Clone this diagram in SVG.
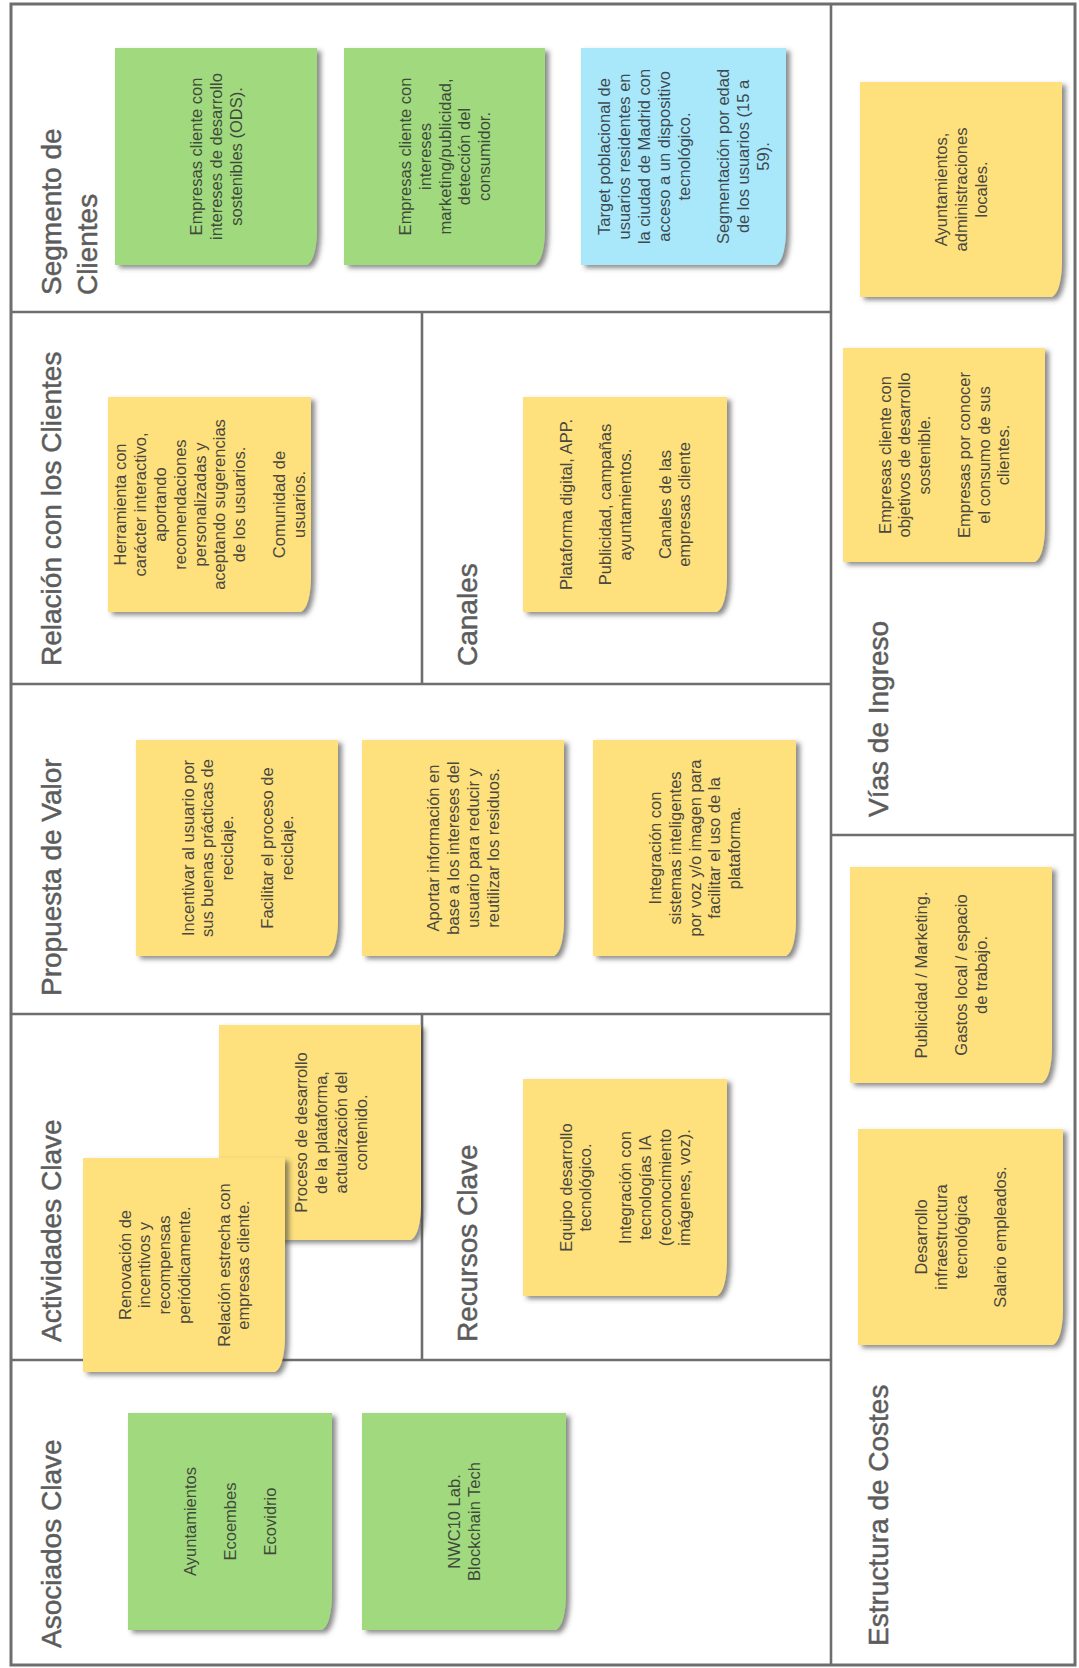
<svg xmlns="http://www.w3.org/2000/svg" width="1079" height="1668" viewBox="0 0 1079 1668">
<style>
.bg{fill:#ffffff}
.frame{fill:none;stroke:#6e6e6e;stroke-width:3}
.grid{stroke:#6e6e6e;stroke-width:2.6;fill:none}
.title{font-family:"Liberation Sans",Arial,sans-serif;font-size:28px;fill:#5c5c5c;stroke:#5c5c5c;stroke-width:0.5}
.nt{font-family:"Liberation Sans",Arial,sans-serif;font-size:16.5px;text-anchor:middle;fill:#4a4840}
.y{fill:#fee17c}
.g{fill:#a1d97f}
.b{fill:#a9e8fa}
.gt{fill:#3f4b3a}
.bt{fill:#3e4a50}
</style>
<defs>
<filter id="sh" x="-10%" y="-10%" width="125%" height="125%">
<feDropShadow dx="4" dy="3" stdDeviation="2.5" flood-color="#3a3a3a" flood-opacity="0.6"/>
</filter>
</defs>
<rect class="bg" x="0" y="0" width="1079" height="1668"/>

<g id="canvas-grid">
<rect class="frame" x="11" y="4" width="1064" height="1661"/>
<line class="grid" x1="831" y1="4" x2="831" y2="1665"/>
<line class="grid" x1="831" y1="835" x2="1075" y2="835"/>
<line class="grid" x1="11" y1="312" x2="831" y2="312"/>
<line class="grid" x1="422" y1="312" x2="422" y2="684"/>
<line class="grid" x1="11" y1="684" x2="831" y2="684"/>
<line class="grid" x1="11" y1="1014" x2="831" y2="1014"/>
<line class="grid" x1="422" y1="1014" x2="422" y2="1360"/>
<line class="grid" x1="11" y1="1360" x2="831" y2="1360"/>
</g>

<g id="connectors"></g>

<g id="segmento-clientes">
<text class="title" transform="translate(61,295) rotate(-90)"><tspan x="0" y="0">Segmento de</tspan><tspan x="0" y="36">Clientes</tspan></text>
</g>
<g id="relacion-clientes">
<text class="title" transform="translate(61,666) rotate(-90)">Relación con los Clientes</text>
</g>
<g id="canales">
<text class="title" transform="translate(477,666) rotate(-90)">Canales</text>
</g>
<g id="propuesta-valor">
<text class="title" transform="translate(61,996) rotate(-90)">Propuesta de Valor</text>
</g>
<g id="actividades-clave">
<text class="title" transform="translate(61,1342) rotate(-90)">Actividades Clave</text>
</g>
<g id="recursos-clave">
<text class="title" transform="translate(477,1342) rotate(-90)">Recursos Clave</text>
</g>
<g id="asociados-clave">
<text class="title" transform="translate(61,1648) rotate(-90)">Asociados Clave</text>
</g>
<g id="vias-ingreso">
<text class="title" transform="translate(888,817) rotate(-90)">Vías de Ingreso</text>
</g>
<g id="estructura-costes">
<text class="title" transform="translate(888,1646) rotate(-90)">Estructura de Costes</text>
</g>

<g id="note-seg-ods">
<path class="g" filter="url(#sh)" d="M115 48H317V231Q316 260 307 265H115Z"/>
<text class="nt gt" transform="translate(216,156.5) rotate(-90)"><tspan x="0" y="-13.8">Empresas cliente con</tspan><tspan x="0" y="6">intereses de desarrollo</tspan><tspan x="0" y="25.8">sostenibles (ODS).</tspan></text>
</g>
<g id="note-seg-marketing">
<path class="g" filter="url(#sh)" d="M344 48H545V231Q544 260 535 265H344Z"/>
<text class="nt gt" transform="translate(444.5,156.5) rotate(-90)"><tspan x="0" y="-33.6">Empresas cliente con</tspan><tspan x="0" y="-13.8">intereses</tspan><tspan x="0" y="6">marketing/publicidad,</tspan><tspan x="0" y="25.8">detección del</tspan><tspan x="0" y="45.6">consumidor.</tspan></text>
</g>
<g id="note-seg-target">
<path class="b" filter="url(#sh)" d="M581 48H786V231Q785 260 776 265H581Z"/>
<text class="nt bt" transform="translate(683.5,156.5) rotate(-90)"><tspan x="0" y="-73.2">Target poblacional de</tspan><tspan x="0" y="-53.4">usuarios residentes en</tspan><tspan x="0" y="-33.6">la ciudad de Madrid con</tspan><tspan x="0" y="-13.8">acceso a un dispositivo</tspan><tspan x="0" y="6">tecnológico.</tspan><tspan x="0" y="45.6">Segmentación por edad</tspan><tspan x="0" y="65.4">de los usuarios (15 a</tspan><tspan x="0" y="85.2">59).</tspan></text>
</g>

<g id="note-vias-ayto">
<path class="y" filter="url(#sh)" d="M860 82H1062V263Q1061 292 1052 297H860Z"/>
<text class="nt" transform="translate(961,189.5) rotate(-90)"><tspan x="0" y="-13.8">Ayuntamientos,</tspan><tspan x="0" y="6">administraciones</tspan><tspan x="0" y="25.8">locales.</tspan></text>
</g>
<g id="note-vias-empresas">
<path class="y" filter="url(#sh)" d="M843 348H1045V528Q1044 557 1035 562H843Z"/>
<text class="nt" transform="translate(944,455) rotate(-90)"><tspan x="0" y="-53.4">Empresas cliente con</tspan><tspan x="0" y="-33.6">objetivos de desarrollo</tspan><tspan x="0" y="-13.8">sostenible.</tspan><tspan x="0" y="25.8">Empresas por conocer</tspan><tspan x="0" y="45.6">el consumo de sus</tspan><tspan x="0" y="65.4">clientes.</tspan></text>
</g>

<g id="note-relacion">
<path class="y" filter="url(#sh)" d="M108 397H311V578Q310 607 301 612H108Z"/>
<text class="nt" transform="translate(209.5,504.5) rotate(-90)"><tspan x="0" y="-83.1">Herramienta con</tspan><tspan x="0" y="-63.3">carácter interactivo,</tspan><tspan x="0" y="-43.5">aportando</tspan><tspan x="0" y="-23.7">recomendaciones</tspan><tspan x="0" y="-3.9">personalizadas y</tspan><tspan x="0" y="15.9">aceptando sugerencias</tspan><tspan x="0" y="35.7">de los usuarios.</tspan><tspan x="0" y="75.3">Comunidad de</tspan><tspan x="0" y="95.1">usuarios.</tspan></text>
</g>
<g id="note-canales">
<path class="y" filter="url(#sh)" d="M523 397H727V578Q726 607 717 612H523Z"/>
<text class="nt" transform="translate(625,504.5) rotate(-90)"><tspan x="0" y="-53.4">Plataforma digital, APP.</tspan><tspan x="0" y="-13.8">Publicidad, campañas</tspan><tspan x="0" y="6">ayuntamientos.</tspan><tspan x="0" y="45.6">Canales de las</tspan><tspan x="0" y="65.4">empresas cliente</tspan></text>
</g>

<g id="note-propuesta-incentivar">
<path class="y" filter="url(#sh)" d="M136 740H338V922Q337 951 328 956H136Z"/>
<text class="nt" transform="translate(237,848) rotate(-90)"><tspan x="0" y="-43.5">Incentivar al usuario por</tspan><tspan x="0" y="-23.7">sus buenas prácticas de</tspan><tspan x="0" y="-3.9">reciclaje.</tspan><tspan x="0" y="35.7">Facilitar el proceso de</tspan><tspan x="0" y="55.5">reciclaje.</tspan></text>
</g>
<g id="note-propuesta-informacion">
<path class="y" filter="url(#sh)" d="M362 740H564V922Q563 951 554 956H362Z"/>
<text class="nt" transform="translate(463,848) rotate(-90)"><tspan x="0" y="-23.7">Aportar información en</tspan><tspan x="0" y="-3.9">base a los intereses del</tspan><tspan x="0" y="15.9">usuario para reducir y</tspan><tspan x="0" y="35.7">reutilizar los residuos.</tspan></text>
</g>
<g id="note-propuesta-integracion">
<path class="y" filter="url(#sh)" d="M593 740H796V922Q795 951 786 956H593Z"/>
<text class="nt" transform="translate(694.5,848) rotate(-90)"><tspan x="0" y="-33.6">Integración con</tspan><tspan x="0" y="-13.8">sistemas inteligentes</tspan><tspan x="0" y="6">por voz y/o imagen para</tspan><tspan x="0" y="25.8">facilitar el uso de la</tspan><tspan x="0" y="45.6">plataforma.</tspan></text>
</g>

<g id="note-costes-publicidad">
<path class="y" filter="url(#sh)" d="M850 867H1052V1049Q1051 1078 1042 1083H850Z"/>
<text class="nt" transform="translate(951,975) rotate(-90)"><tspan x="0" y="-23.7">Publicidad / Marketing.</tspan><tspan x="0" y="15.9">Gastos local / espacio</tspan><tspan x="0" y="35.7">de trabajo.</tspan></text>
</g>
<g id="note-costes-desarrollo">
<path class="y" filter="url(#sh)" d="M858 1129H1063V1311Q1062 1340 1053 1345H858Z"/>
<text class="nt" transform="translate(960.5,1237) rotate(-90)"><tspan x="0" y="-33.6">Desarrollo</tspan><tspan x="0" y="-13.8">infraestructura</tspan><tspan x="0" y="6">tecnológica</tspan><tspan x="0" y="45.6">Salario empleados.</tspan></text>
</g>

<g id="note-actividades-proceso">
<path class="y" filter="url(#sh)" d="M219 1025H421V1206Q420 1235 411 1240H219Z"/>
<text class="nt" transform="translate(331,1132.5) rotate(-90)"><tspan x="0" y="-23.7">Proceso de desarrollo</tspan><tspan x="0" y="-3.9">de la plataforma,</tspan><tspan x="0" y="15.9">actualización del</tspan><tspan x="0" y="35.7">contenido.</tspan></text>
</g>
<g id="note-actividades-renovacion">
<path class="y" filter="url(#sh)" d="M83 1158H285V1338Q284 1367 275 1372H83Z"/>
<text class="nt" transform="translate(184,1265) rotate(-90)"><tspan x="0" y="-53.4">Renovación de</tspan><tspan x="0" y="-33.6">incentivos y</tspan><tspan x="0" y="-13.8">recompensas</tspan><tspan x="0" y="6">periódicamente.</tspan><tspan x="0" y="45.6">Relación estrecha con</tspan><tspan x="0" y="65.4">empresas cliente.</tspan></text>
</g>

<g id="note-recursos">
<path class="y" filter="url(#sh)" d="M523 1079H727V1262Q726 1291 717 1296H523Z"/>
<text class="nt" transform="translate(625,1187.5) rotate(-90)"><tspan x="0" y="-53.4">Equipo desarrollo</tspan><tspan x="0" y="-33.6">tecnológico.</tspan><tspan x="0" y="6">Integración con</tspan><tspan x="0" y="25.8">tecnologías IA</tspan><tspan x="0" y="45.6">(reconocimiento</tspan><tspan x="0" y="65.4">imágenes, voz).</tspan></text>
</g>

<g id="note-asociados-entidades">
<path class="g" filter="url(#sh)" d="M128 1413H332V1596Q331 1625 322 1630H128Z"/>
<text class="nt gt" transform="translate(230,1521.5) rotate(-90)"><tspan x="0" y="-33.6">Ayuntamientos</tspan><tspan x="0" y="6">Ecoembes</tspan><tspan x="0" y="45.6">Ecovidrio</tspan></text>
</g>
<g id="note-asociados-nwc10">
<path class="g" filter="url(#sh)" d="M362 1413H566V1596Q565 1625 556 1630H362Z"/>
<text class="nt gt" transform="translate(464,1521.5) rotate(-90)"><tspan x="0" y="-3.9">NWC10 Lab.</tspan><tspan x="0" y="15.9">Blockchain Tech</tspan></text>
</g>
</svg>
